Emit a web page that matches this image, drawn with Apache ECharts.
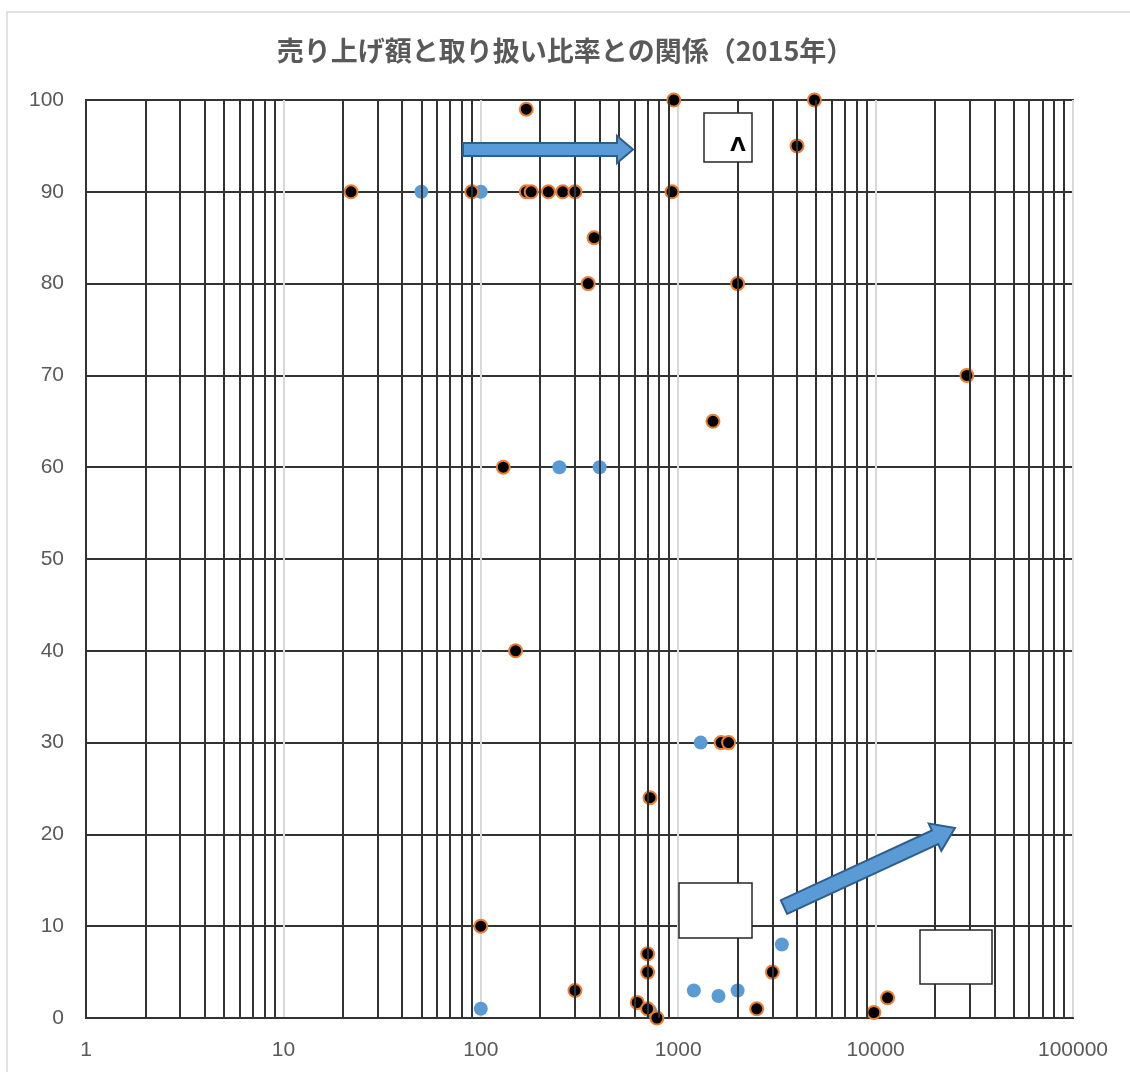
<!DOCTYPE html>
<html><head><meta charset="utf-8">
<script src="https://cdn.jsdelivr.net/npm/echarts@6/dist/echarts.min.js"></script>
<style>html,body{margin:0;padding:0;background:#fff}#c{width:1130px;height:1072px}</style>
</head><body><div id="c"></div>
<script>
// Data: [sales amount (log scale), handling ratio %]
const titleText = '売り上げ額と取り扱い比率との関係（2015年）';
const blueSeries = [
  [50, 90], [100, 90], [250, 60], [400, 60], [1300, 30], [100, 1],
  [1200, 3], [1600, 2.4], [2000, 3], [3350, 8], [720, 0.8]
];
const blackSeries = [
  [22, 90], [90, 90], [170, 90], [180, 90], [220, 90], [260, 90], [300, 90],
  [170, 99], [950, 100], [930, 90], [4900, 100], [4000, 95],
  [375, 85], [350, 80], [2000, 80], [29000, 70], [1500, 65], [130, 60],
  [150, 40], [1650, 30], [1800, 30], [720, 24], [100, 10],
  [700, 7], [700, 5], [300, 3], [620, 1.7], [700, 1], [780, 0],
  [2500, 1], [3000, 5], [9800, 0.6], [11500, 2.2]
];
const xTickLabels = ['1', '10', '100', '1000', '10000', '100000'];
const yTicks = [0, 10, 20, 30, 40, 50, 60, 70, 80, 90, 100];
const minorXLines = [
  2, 3, 4, 5, 6, 7, 8, 9,
  20, 30, 40, 50, 60, 70, 80, 90,
  200, 300, 400, 500, 600, 700, 800, 900,
  2000, 3000, 4000, 5000, 6000, 7000, 8000, 9000,
  20000, 30000, 40000, 50000, 60000, 70000, 80000, 90000
];

const chart = echarts.init(document.getElementById('c'), null, {renderer: 'canvas'});
const lineCol = '#333333';
const labelFont = {color: '#595959', fontSize: 21, fontFamily: '"Liberation Sans", sans-serif'};

function arrowPts(x1, y1, x2, y2, hw, hhw, hl) {
  const dx = x2 - x1, dy = y2 - y1, L = Math.hypot(dx, dy);
  const ux = dx / L, uy = dy / L, nx = -uy, ny = ux;
  const bx = x2 - ux * hl, by = y2 - uy * hl;
  return [
    [x1 + nx * hw, y1 + ny * hw], [bx + nx * hw, by + ny * hw], [bx + nx * hhw, by + ny * hhw],
    [x2, y2],
    [bx - nx * hhw, by - ny * hhw], [bx - nx * hw, by - ny * hw], [x1 - nx * hw, y1 - ny * hw]
  ];
}

const option = {
  backgroundColor: '#ffffff',
  animation: false,
  title: {
    text: titleText, left: 'center', top: 32,
    textStyle: {color: '#595959', fontSize: 27, fontWeight: 'bold', fontFamily: '"Noto Sans CJK JP", sans-serif'}
  },
  grid: {left: 86, right: 57, top: 100, bottom: 54, containLabel: false, show: true, borderColor: lineCol, borderWidth: 2},
  xAxis: {
    type: 'log', logBase: 10, min: 1, max: 100000,
    axisLine: {show: true, lineStyle: {color: lineCol, width: 2}},
    axisTick: {show: false},
    axisLabel: Object.assign({margin: 22, formatter: v => xTickLabels[Math.round(Math.log10(v))] || ''}, labelFont),
    splitLine: {show: true, lineStyle: {color: '#D9D9D9', width: 2}},
    minorTick: {show: false}, minorSplitLine: {show: false}
  },
  yAxis: {
    type: 'value', min: yTicks[0], max: yTicks[yTicks.length - 1], interval: 10,
    axisLine: {show: true, lineStyle: {color: lineCol, width: 2}},
    axisTick: {show: false},
    axisLabel: Object.assign({margin: 22}, labelFont),
    splitLine: {show: true, lineStyle: {color: lineCol, width: 2}}
  },
  series: [
    {
      name: 'grid', type: 'scatter', data: [], silent: true,
      markLine: {
        silent: true, symbol: ['none', 'none'], animation: false,
        label: {show: false},
        lineStyle: {color: lineCol, width: 2, type: 'solid'},
        emphasis: {disabled: true},
        data: minorXLines.map(v => ({xAxis: v}))
      },
      z: 1
    },
    {
      name: 'blue', type: 'scatter', data: blueSeries, symbol: 'circle', symbolSize: 14,
      itemStyle: {color: '#5B9BD5', opacity: 1}, z: 3
    },
    {
      name: 'black', type: 'scatter', data: blackSeries, symbol: 'circle', symbolSize: 13,
      itemStyle: {color: '#000000', borderColor: '#ED7D31', borderWidth: 2, opacity: 1}, z: 4
    }
  ],
  graphic: [
    {type: 'rect', shape: {x: 7, y: 12, width: 1140, height: 1080}, style: {fill: null, stroke: '#D9D9D9', lineWidth: 1.5}, z: 0, silent: true},
    {type: 'polygon', shape: {points: arrowPts(463, 149.5, 633, 149.5, 6.5, 13.5, 16)}, style: {fill: '#5B9BD5', stroke: '#2E5E8C', lineWidth: 2}, z: 100},
    {type: 'polygon', shape: {points: arrowPts(784, 907, 955, 828, 7.5, 15, 22)}, style: {fill: '#5B9BD5', stroke: '#2E5E8C', lineWidth: 2}, z: 100},
    {type: 'rect', shape: {x: 704, y: 113, width: 48, height: 49}, style: {fill: '#ffffff', stroke: '#262626', lineWidth: 1.5}, z: 100},
    {type: 'text', x: 738, y: 146, style: {text: 'Λ', fill: '#000000', font: 'bold 20px "DejaVu Sans", sans-serif', textAlign: 'center', textVerticalAlign: 'middle'}, z: 101},
    {type: 'rect', shape: {x: 679, y: 883, width: 73, height: 55}, style: {fill: '#ffffff', stroke: '#262626', lineWidth: 1.5}, z: 100},
    {type: 'rect', shape: {x: 920, y: 930, width: 72, height: 54}, style: {fill: '#ffffff', stroke: '#262626', lineWidth: 1.5}, z: 100}
  ]
};
chart.setOption(option);
</script></body></html>
